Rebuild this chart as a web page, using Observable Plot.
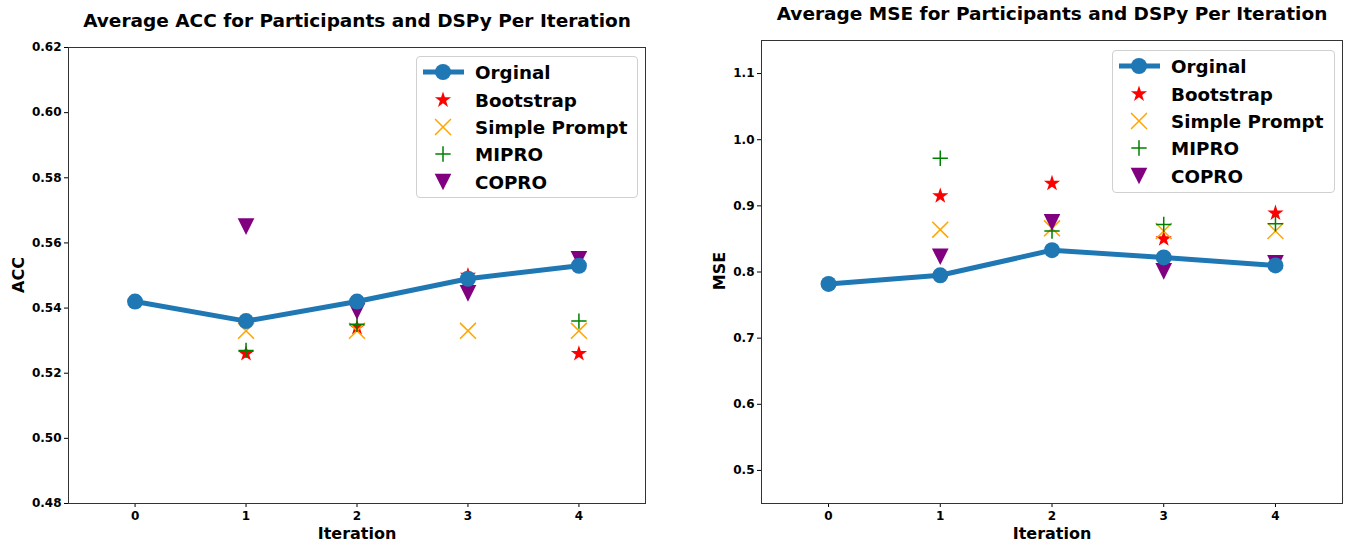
<!DOCTYPE html>
<html><head><meta charset="utf-8">
<script src="https://cdn.jsdelivr.net/npm/d3@7"></script>
<script src="https://cdn.jsdelivr.net/npm/@observablehq/plot@0.6"></script>
<style>
body{margin:0;background:#fff;font-family:"DejaVu Sans",sans-serif;}
#wrap{position:relative;width:1349px;height:545px;overflow:hidden;background:#fff;}
.title{position:absolute;font-weight:bold;font-size:18.5px;white-space:nowrap;transform:translateX(-50%);line-height:1;}
.xlab{position:absolute;font-weight:bold;font-size:16px;white-space:nowrap;transform:translateX(-50%);line-height:1;}
.ylab{position:absolute;font-weight:bold;font-size:16px;white-space:nowrap;transform:translate(-50%,-50%) rotate(-90deg);line-height:1;}
.panel{position:absolute;top:0;}
.legend{position:absolute;background:rgba(255,255,255,0.8);border:1px solid #d0d0d0;border-radius:4px;box-sizing:border-box;}
.legend svg{position:absolute;left:0;top:0;overflow:visible;}
</style></head><body><div id="wrap"></div>
<script>
// ---- data ----
const iterations = [0, 1, 2, 3, 4];
const dspyIterations = [1, 2, 3, 4];
const seriesNames = ["Orginal", "Bootstrap", "Simple Prompt", "MIPRO", "COPRO"];

const accOrginal   = [0.542, 0.536, 0.542, 0.549, 0.553];
const accBootstrap = [0.526, 0.534, 0.550, 0.526];
const accSimple    = [0.533, 0.533, 0.533, 0.533];
const accMipro     = [0.527, 0.535, 0.549, 0.536];
const accCopro     = [0.565, 0.539, 0.5445, 0.555];

const mseOrginal   = [0.782, 0.795, 0.833, 0.822, 0.810];
const mseBootstrap = [0.915, 0.934, 0.850, 0.889];
const mseSimple    = [0.864, 0.866, 0.862, 0.862];
const mseMipro     = [0.972, 0.862, 0.872, 0.873];
const mseCopro     = [0.823, 0.875, 0.801, 0.813];

const accTicks = [0.48, 0.50, 0.52, 0.54, 0.56, 0.58, 0.60, 0.62];
const mseTicks = [0.5, 0.6, 0.7, 0.8, 0.9, 1.0, 1.1];

const titles = ["Average ACC for Participants and DSPy Per Iteration", "Average MSE for Participants and DSPy Per Iteration"];
const yLabels = ["ACC", "MSE"];
const xLabel = "Iteration";

// ---- styles ----
const colors = {Orginal: "#1f77b4", Bootstrap: "red", "Simple Prompt": "orange", MIPRO: "green", COPRO: "purple"};
const triDown = {draw(ctx, size) { const s = Math.sqrt(size) / 2; ctx.moveTo(0, s); ctx.lineTo(-s, -s); ctx.lineTo(s, -s); ctx.closePath(); }};
const markerSpec = {
  Bootstrap: {symbol: "star", r: 5.1, fill: true},
  "Simple Prompt": {symbol: "times", r: 7.3, fill: false},
  MIPRO: {symbol: "plus", r: 5.0, fill: false},
  COPRO: {symbol: triDown, r: 9.4, fill: true}
};
const symbolMap = {star: d3.symbolStar, times: d3.symbolTimes, plus: d3.symbolPlus};

function markerMark(name, xs, ys) {
  const spec = markerSpec[name];
  const data = xs.map((x, i) => ({x, y: ys[i]}));
  const opts = {x: "x", y: "y", symbol: spec.symbol, r: spec.r};
  if (spec.fill) { opts.fill = colors[name]; opts.stroke = "none"; }
  else { opts.fill = "none"; opts.stroke = colors[name]; opts.strokeWidth = 1.5; }
  return Plot.dot(data, opts);
}

function panel(cfg) {
  const orig = iterations.map((x, i) => ({x, y: cfg.orig[i]}));
  return Plot.plot({
    width: cfg.width, height: 545,
    marginLeft: cfg.ml, marginRight: cfg.mr, marginTop: cfg.mt, marginBottom: 42,
    style: "font-family:'DejaVu Sans',sans-serif;font-size:12px;font-weight:bold;color:black;background:white;overflow:visible;",
    x: {domain: [-0.6, 4.6]},
    y: {domain: cfg.domain},
    marks: [
      Plot.axisX({ticks: iterations, tickFormat: d => String(d), tickSize: 4, tickPadding: 4, label: null}),
      Plot.axisY({ticks: cfg.ticks, tickFormat: d3.format(cfg.fmt), tickSize: 4, tickPadding: 3, label: null}),
      markerMark("Bootstrap", dspyIterations, cfg.boot),
      markerMark("Simple Prompt", dspyIterations, cfg.simple),
      markerMark("MIPRO", dspyIterations, cfg.mipro),
      markerMark("COPRO", dspyIterations, cfg.copro),
      Plot.line(orig, {x: "x", y: "y", stroke: colors.Orginal, strokeWidth: 5}),
      Plot.dot(orig, {x: "x", y: "y", r: 8, fill: colors.Orginal, stroke: "none"}),
      Plot.frame({stroke: "#333", strokeWidth: 1})
    ]
  });
}

function legend(left, top, w, h) {
  const div = document.createElement("div");
  div.className = "legend";
  Object.assign(div.style, {left: left + "px", top: top + "px", width: w + "px", height: h + "px"});
  const svg = d3.select(div).append("svg").attr("width", w).attr("height", h);
  const rows = [15, 43, 70, 97, 125];
  seriesNames.forEach((name, i) => {
    const g = svg.append("g").attr("transform", `translate(0,${rows[i]})`);
    if (name === "Orginal") {
      g.append("line").attr("x1", 6).attr("x2", 47).attr("y1", 0).attr("y2", 0).attr("stroke", colors[name]).attr("stroke-width", 5);
      g.append("circle").attr("cx", 26).attr("cy", 0).attr("r", 8).attr("fill", colors[name]);
    } else {
      const spec = markerSpec[name];
      const type = typeof spec.symbol === "string" ? symbolMap[spec.symbol] : spec.symbol;
      const p = g.append("path").attr("transform", "translate(26,0)")
        .attr("d", d3.symbol().type(type).size(Math.PI * spec.r * spec.r)());
      if (spec.fill) p.attr("fill", colors[name]);
      else p.attr("fill", "none").attr("stroke", colors[name]).attr("stroke-width", 1.5);
    }
    g.append("text").attr("x", 58).attr("y", 0).attr("dy", "0.36em")
      .attr("font-family", "DejaVu Sans").attr("font-weight", "bold").attr("font-size", 18.3).text(name);
  });
  return div;
}

function addDiv(cls, text, left, top) {
  const d = document.createElement("div");
  d.className = cls; d.textContent = text;
  d.style.left = left + "px"; d.style.top = top + "px";
  wrap.appendChild(d);
}

const wrap = document.getElementById("wrap");

const p1 = panel({width: 675, ml: 68, mr: 30, mt: 47, domain: [0.48, 0.62], ticks: accTicks, fmt: ".2f",
  orig: accOrginal, boot: accBootstrap, simple: accSimple, mipro: accMipro, copro: accCopro});
p1.classList.add("panel"); p1.style.left = "0px";
wrap.appendChild(p1);

const p2 = panel({width: 674, ml: 86, mr: 7, mt: 40, domain: [0.45, 1.15], ticks: mseTicks, fmt: ".1f",
  orig: mseOrginal, boot: mseBootstrap, simple: mseSimple, mipro: mseMipro, copro: mseCopro});
p2.classList.add("panel"); p2.style.left = "675px";
wrap.appendChild(p2);

addDiv("title", titles[0], 357, 12);
addDiv("title", titles[1], 1052, 5);
addDiv("xlab", xLabel, 357, 526);
addDiv("xlab", xLabel, 1052, 526);
addDiv("ylab", yLabels[0], 19, 275);
addDiv("ylab", yLabels[1], 720, 271);

wrap.appendChild(legend(416, 56, 222, 142));
wrap.appendChild(legend(1112, 50, 223, 143));
</script>
</body></html>
